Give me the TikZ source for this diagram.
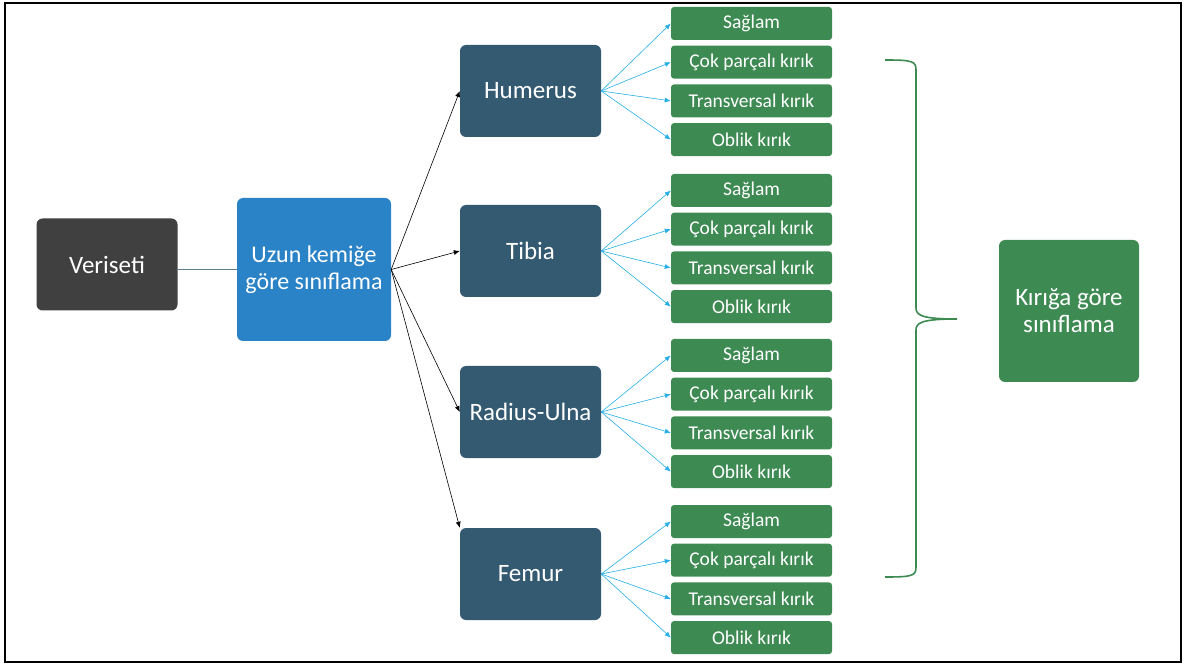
\documentclass[tikz,border=0pt]{standalone}
\usepackage{fontspec}
\setmainfont{Carlito}
\usepackage{xcolor}
\usepackage{tikz}
\usetikzlibrary{arrows.meta,positioning}
\definecolor{coal}{HTML}{404040}
\definecolor{ocean}{HTML}{2A82C7}
\definecolor{slate}{HTML}{345A72}
\definecolor{leafgreen}{HTML}{3E8A53}
\definecolor{sky}{HTML}{25AEE6}
\definecolor{rim}{HTML}{5E7F92}

\begin{document}
\begin{tikzpicture}[x=1pt,y=-1pt,every node/.style={font=\fontsize{25}{27}\selectfont,text=white},box/.style={rounded corners=6pt,align=center,minimum width=141pt,minimum height=92pt},bone/.style={box,fill=slate},leaf/.style={rounded corners=3pt,fill=leafgreen,minimum width=161pt,minimum height=33pt,font=\fontsize{19.5}{21}\selectfont},arr/.style={-{Latex[length=6pt,width=5pt]},draw=black,line width=0.6pt},barr/.style={-{Latex[length=6pt,width=5pt]},draw=sky,line width=0.6pt},brc/.style={draw=leafgreen,line width=1.6pt,rounded corners=0pt}]
\useasboundingbox (0,0) rectangle (1187,668);
\draw[line width=2.2pt] (5,3) rectangle (1181,662);
\node[box,fill=coal] (ver) at (107,264.5) {Veriseti};
\node[box,fill=ocean,minimum width=154pt,minimum height=143pt,font=\fontsize{24}{27}\selectfont] (uzn) at (314,269.5) {Uzun kemiğe\\göre sınıflama};
\node[bone] (hum) at (530.5,91) {Humerus};
\node[bone] (tib) at (530.5,251) {Tibia};
\node[bone] (rad) at (530.5,412) {Radius-Ulna};
\node[bone] (fem) at (530.5,574) {Femur};
% humerus
\node[leaf] (hum1) at (751.5,23.5) {Sağlam};
\node[leaf,below=5.3pt of hum1] (hum2) {Çok parçalı kırık};
\node[leaf,below=5.3pt of hum2] (hum3) {Transversal kırık};
\node[leaf,below=5.3pt of hum3] (hum4) {Oblik kırık};
% tibia
\node[leaf] (tib1) at (751.5,190.5) {Sağlam};
\node[leaf,below=5.3pt of tib1] (tib2) {Çok parçalı kırık};
\node[leaf,below=5.3pt of tib2] (tib3) {Transversal kırık};
\node[leaf,below=5.3pt of tib3] (tib4) {Oblik kırık};
% radius-ulna
\node[leaf] (rad1) at (751.5,355.5) {Sağlam};
\node[leaf,below=5.3pt of rad1] (rad2) {Çok parçalı kırık};
\node[leaf,below=5.3pt of rad2] (rad3) {Transversal kırık};
\node[leaf,below=5.3pt of rad3] (rad4) {Oblik kırık};
% femur
\node[leaf] (fem1) at (751.5,521.5) {Sağlam};
\node[leaf,below=5.3pt of fem1] (fem2) {Çok parçalı kırık};
\node[leaf,below=5.3pt of fem2] (fem3) {Transversal kırık};
\node[leaf,below=5.3pt of fem3] (fem4) {Oblik kırık};
\node[box,fill=leafgreen,minimum width=140pt,minimum height=142pt] (krg) at (1069,311) {Kırığa göre\\sınıflama};
\draw[draw=rim,line width=1.2pt] (ver.east |- uzn.west) -- (uzn.west);
\draw[arr] (uzn.east) -- (hum.west);\draw[arr] (uzn.east) -- (tib.west);\draw[arr] (uzn.east) -- (rad.west);\draw[arr] (uzn.east) -- (fem.north west);
\draw[barr] (hum.east) -- (hum1.west);\draw[barr] (hum.east) -- (hum2.west);\draw[barr] (hum.east) -- (hum3.west);\draw[barr] (hum.east) -- (hum4.west);
\draw[barr] (tib.east) -- (tib1.west);\draw[barr] (tib.east) -- (tib2.west);\draw[barr] (tib.east) -- (tib3.west);\draw[barr] (tib.east) -- (tib4.west);
\draw[barr] (rad.east) -- (rad1.west);\draw[barr] (rad.east) -- (rad2.west);\draw[barr] (rad.east) -- (rad3.west);\draw[barr] (rad.east) -- (rad4.west);
\draw[barr] (fem.east) -- (fem1.west);\draw[barr] (fem.east) -- (fem2.west);\draw[barr] (fem.east) -- (fem3.west);\draw[barr] (fem.east) -- (fem4.west);
% brace
\draw[brc] (885,60) .. controls (912,60) and (916,61) .. (916,70) -- (916,308) .. controls (916,315) and (921,319) .. (957,319) .. controls (921,319) and (916,323) .. (916,330) -- (916,567) .. controls (916,576) and (912,577) .. (885,577);
\end{tikzpicture}
\end{document}
